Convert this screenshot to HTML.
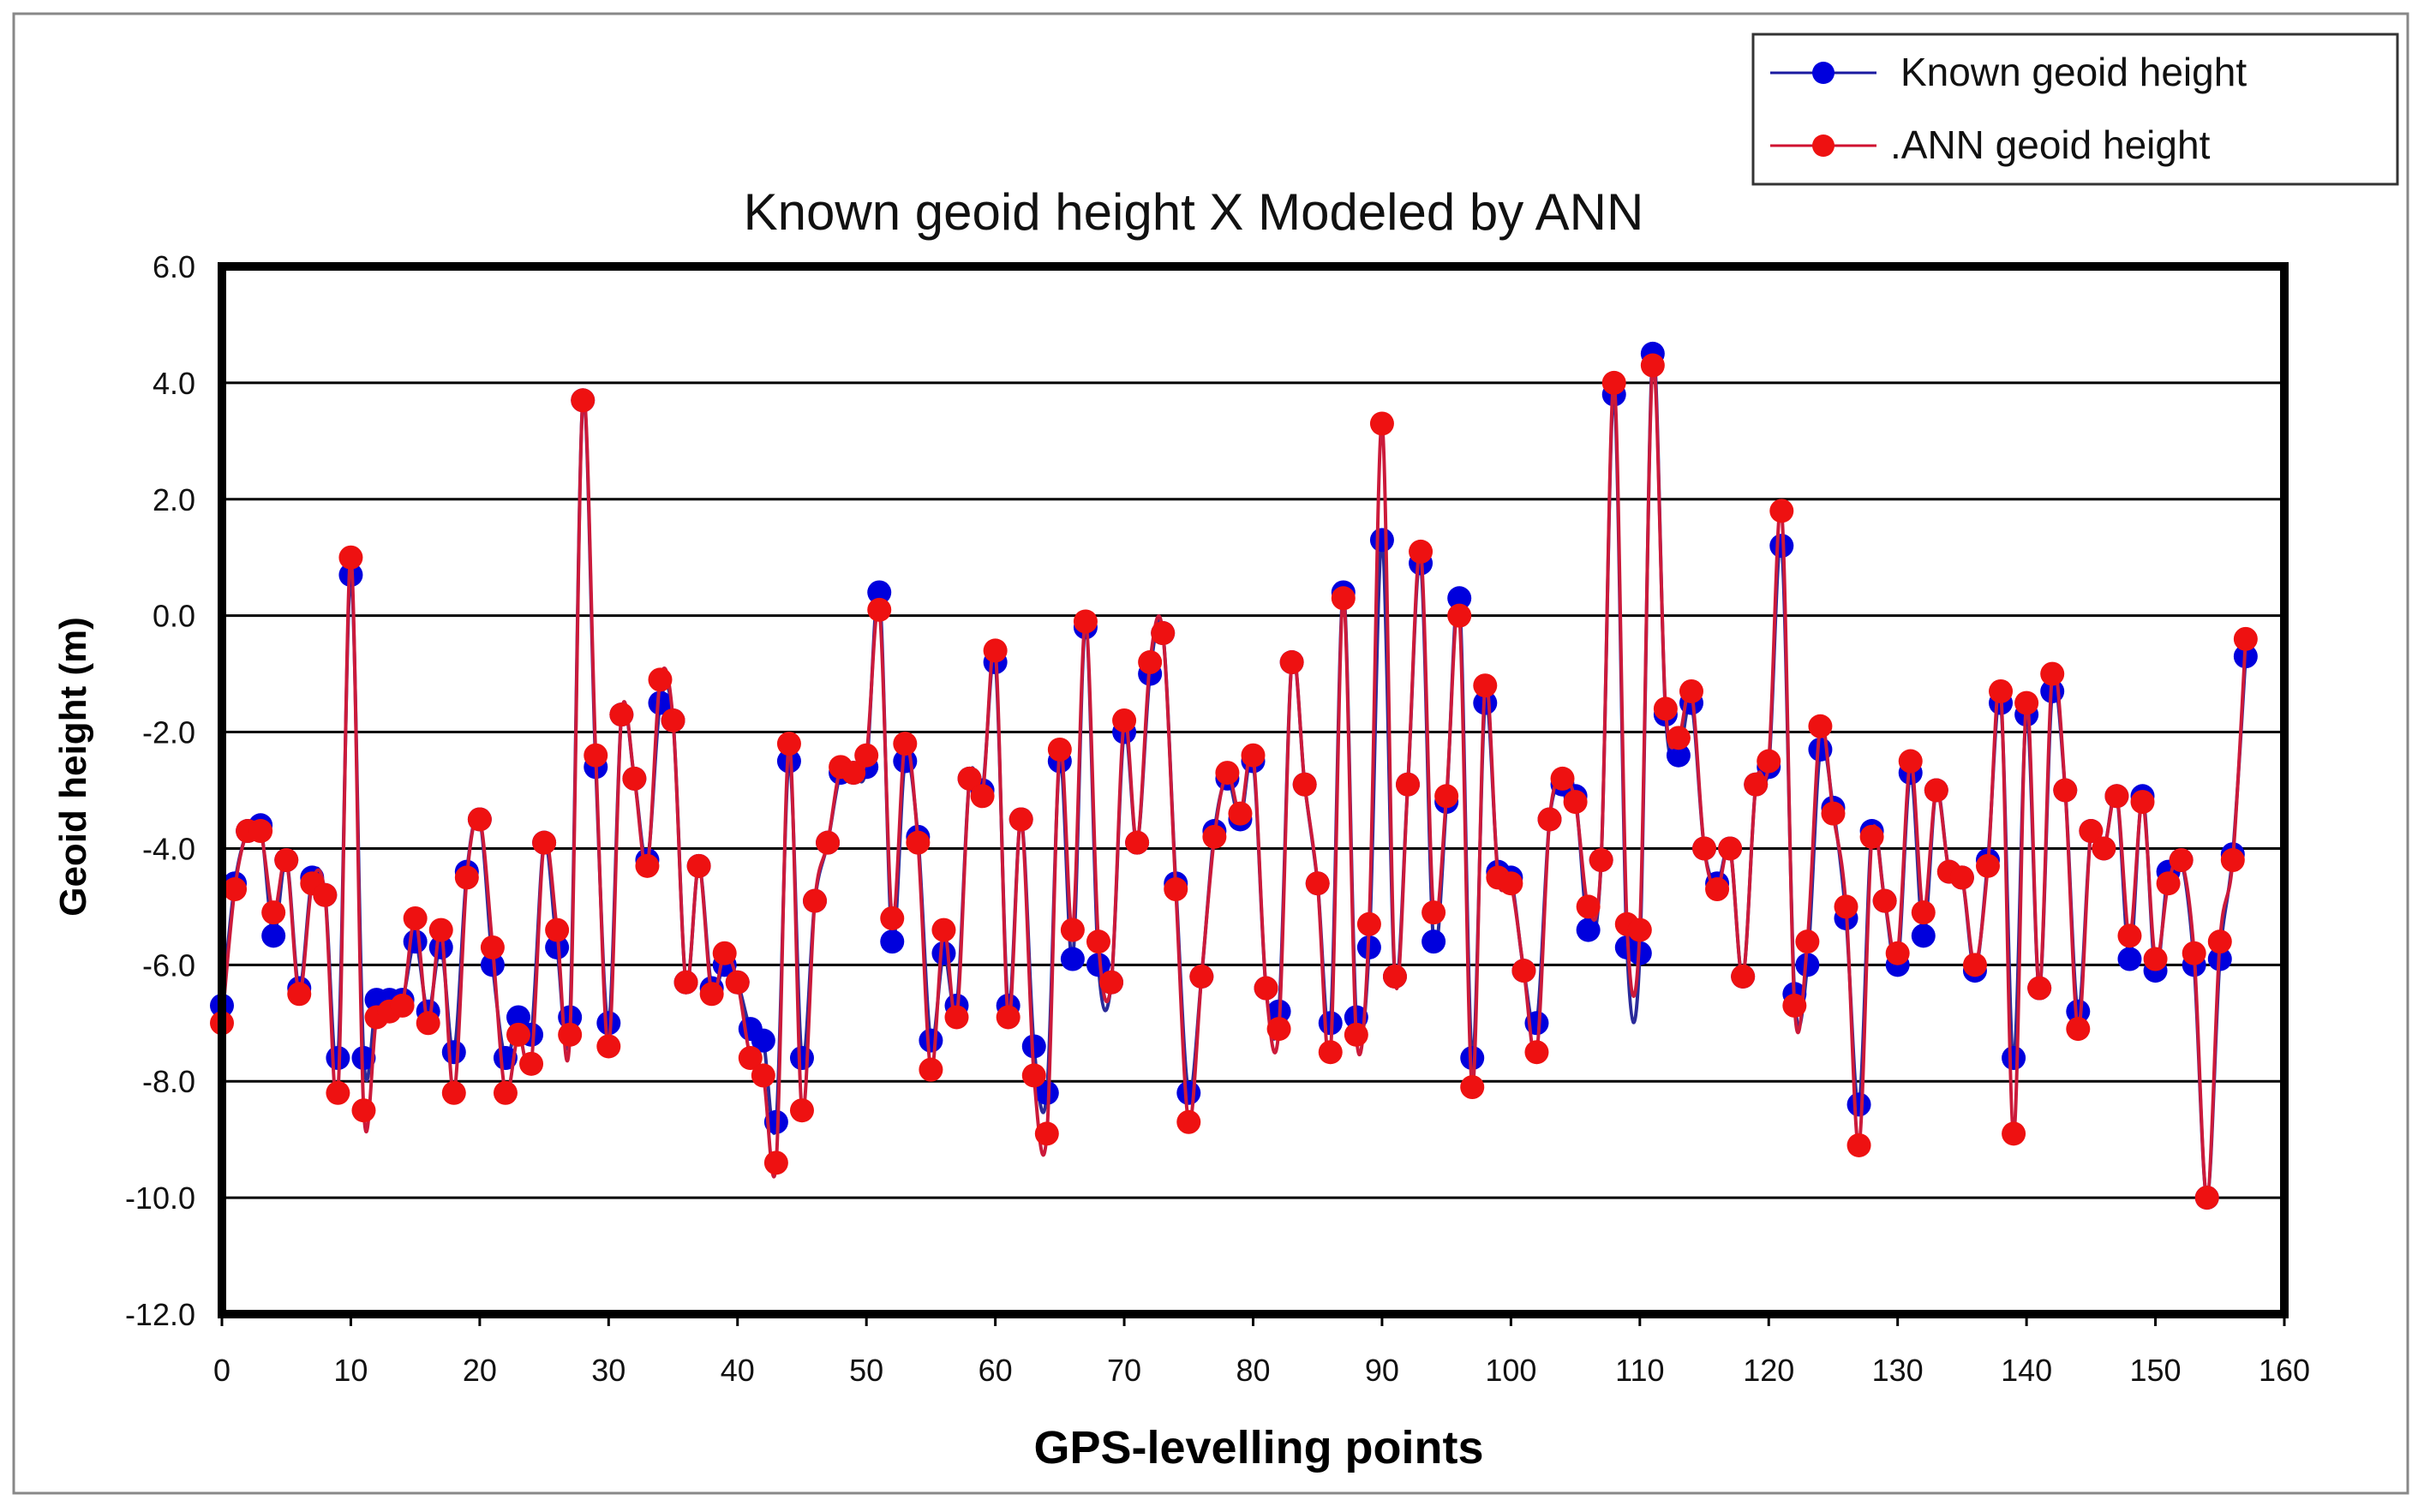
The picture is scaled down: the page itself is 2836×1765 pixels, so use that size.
<!DOCTYPE html>
<html><head><meta charset="utf-8"><style>
html,body{margin:0;padding:0;background:#fff;}
svg{display:block;font-family:"Liberation Sans",Arial,sans-serif;}
</style></head><body>
<svg id="chart" width="2836" height="1765" viewBox="0 0 2836 1765">
<rect x="16" y="16" width="2794" height="1727" fill="#fff" stroke="#888" stroke-width="3"/>
<g id="grid"></g>
<g id="series"></g>
<rect x="259" y="311" width="2407" height="1223" fill="none" stroke="#000" stroke-width="10"/>
<g id="yticks"></g><g id="xticks"></g>
<text x="1393" y="268" font-size="60" text-anchor="middle" fill="#111">Known geoid height X Modeled by ANN</text>
<text x="1469" y="1708" font-size="54" font-weight="bold" text-anchor="middle" fill="#000">GPS-levelling points</text>
<text transform="translate(100,895) rotate(-90)" font-size="44" font-weight="bold" text-anchor="middle" fill="#000">Geoid height (m)</text>
<g>
<rect x="2046" y="40" width="752" height="175" fill="#fff" stroke="#333" stroke-width="3"/>
<g>
<line x1="2066" y1="85" x2="2190" y2="85" stroke="#1a1aa0" stroke-width="3"/>
<circle cx="2128" cy="85" r="13" fill="#0000dd"/>
<text x="2218" y="100" font-size="46" fill="#111">Known geoid height</text></g>
<g>
<line x1="2066" y1="170" x2="2190" y2="170" stroke="#d01030" stroke-width="3"/>
<circle cx="2128" cy="170" r="13" fill="#ee1111"/>
<text x="2206" y="185" font-size="46" fill="#111">.ANN geoid height</text></g>
</g>
</svg>
<script>
const known=[-6.7,-4.6,-3.7,-3.6,-5.5,-4.2,-6.4,-4.5,-4.8,-7.6,0.7,-7.6,-6.6,-6.6,-6.6,-5.6,-6.8,-5.7,-7.5,-4.4,-3.5,-6.0,-7.6,-6.9,-7.2,-3.9,-5.7,-6.9,3.7,-2.6,-7.0,-1.7,-2.8,-4.2,-1.5,-1.8,-6.3,-4.3,-6.4,-6.0,-6.3,-7.1,-7.3,-8.7,-2.5,-7.6,-4.9,-3.9,-2.7,-2.7,-2.6,0.4,-5.6,-2.5,-3.8,-7.3,-5.8,-6.7,-2.8,-3.0,-0.8,-6.7,-3.5,-7.4,-8.2,-2.5,-5.9,-0.2,-6.0,-6.3,-2.0,-3.9,-1.0,-0.3,-4.6,-8.2,-6.2,-3.7,-2.8,-3.5,-2.5,-6.4,-6.8,-0.8,-2.9,-4.6,-7.0,0.4,-6.9,-5.7,1.3,-6.2,-2.9,0.9,-5.6,-3.2,0.3,-7.6,-1.5,-4.4,-4.5,-6.1,-7.0,-3.5,-2.9,-3.1,-5.4,-4.2,3.8,-5.7,-5.8,4.5,-1.7,-2.4,-1.5,-4.0,-4.6,-4.0,-6.2,-2.9,-2.6,1.2,-6.5,-6.0,-2.3,-3.3,-5.2,-8.4,-3.7,-4.9,-6.0,-2.7,-5.5,-3.0,-4.4,-4.5,-6.1,-4.2,-1.5,-7.6,-1.7,-6.4,-1.3,-3.0,-6.8,-3.7,-4.0,-3.1,-5.9,-3.1,-6.1,-4.4,-4.2,-6.0,-10.0,-5.9,-4.1,-0.7];
const ann=[-7.0,-4.7,-3.7,-3.7,-5.1,-4.2,-6.5,-4.6,-4.8,-8.2,1.0,-8.5,-6.9,-6.8,-6.7,-5.2,-7.0,-5.4,-8.2,-4.5,-3.5,-5.7,-8.2,-7.2,-7.7,-3.9,-5.4,-7.2,3.7,-2.4,-7.4,-1.7,-2.8,-4.3,-1.1,-1.8,-6.3,-4.3,-6.5,-5.8,-6.3,-7.6,-7.9,-9.4,-2.2,-8.5,-4.9,-3.9,-2.6,-2.7,-2.4,0.1,-5.2,-2.2,-3.9,-7.8,-5.4,-6.9,-2.8,-3.1,-0.6,-6.9,-3.5,-7.9,-8.9,-2.3,-5.4,-0.1,-5.6,-6.3,-1.8,-3.9,-0.8,-0.3,-4.7,-8.7,-6.2,-3.8,-2.7,-3.4,-2.4,-6.4,-7.1,-0.8,-2.9,-4.6,-7.5,0.3,-7.2,-5.3,3.3,-6.2,-2.9,1.1,-5.1,-3.1,0.0,-8.1,-1.2,-4.5,-4.6,-6.1,-7.5,-3.5,-2.8,-3.2,-5.0,-4.2,4.0,-5.3,-5.4,4.3,-1.6,-2.1,-1.3,-4.0,-4.7,-4.0,-6.2,-2.9,-2.5,1.8,-6.7,-5.6,-1.9,-3.4,-5.0,-9.1,-3.8,-4.9,-5.8,-2.5,-5.1,-3.0,-4.4,-4.5,-6.0,-4.3,-1.3,-8.9,-1.5,-6.4,-1.0,-3.0,-7.1,-3.7,-4.0,-3.1,-5.5,-3.2,-5.9,-4.6,-4.2,-5.8,-10.0,-5.6,-4.2,-0.4];
const yTicks=["6.0","4.0","2.0","0.0","-2.0","-4.0","-6.0","-8.0","-10.0","-12.0"];
const xTicks=[0,10,20,30,40,50,60,70,80,90,100,110,120,130,140,150,160];
const NS="http://www.w3.org/2000/svg";
const X0=259,X1=2666,Y0=311,Y1=1534;
function sx(v){return X0+(v-0)/(160-0)*(X1-X0);}
function sy(v){return Y1-(v+12)/18*(Y1-Y0);}
function mk(tag,attrs,parent){const e=document.createElementNS(NS,tag);for(const k in attrs)e.setAttribute(k,attrs[k]);parent.appendChild(e);return e;}
const grid=document.getElementById('grid'),yt=document.getElementById('yticks'),xt=document.getElementById('xticks'),ser=document.getElementById('series');
yTicks.forEach(t=>{const v=parseFloat(t);
const l=mk('line',{x1:X0,x2:X1,y1:sy(v),y2:sy(v),stroke:'#000','stroke-width':3},grid);


const tx=mk('text',{x:228,y:sy(v)+13,'font-size':36,'text-anchor':'end',fill:'#111'},yt);tx.textContent=t;

});
xTicks.forEach(v=>{
const tm=mk('line',{x1:sx(v),x2:sx(v),y1:Y1,y2:Y1+14,stroke:'#000','stroke-width':3},xt);


const tx=mk('text',{x:sx(v),y:1612,'font-size':36,'text-anchor':'middle',fill:'#111'},xt);tx.textContent=v;

});
function smooth(arr){const p=arr.map((v,i)=>[sx(i),sy(v)]);let d='M'+p[0][0]+','+p[0][1];
for(let i=0;i<p.length-1;i++){const a=p[Math.max(0,i-1)],b=p[i],c=p[i+1],e=p[Math.min(p.length-1,i+2)];
const c1=[b[0]+(c[0]-a[0])/6,b[1]+(c[1]-a[1])/6],c2=[c[0]-(e[0]-b[0])/6,c[1]-(e[1]-b[1])/6];
d+=' C'+c1[0]+','+c1[1]+' '+c2[0]+','+c2[1]+' '+c[0]+','+c[1];}return d;}
function drawSeries(arr,lineCol,dotCol,name){
const g=mk('g',{},ser);


const path=mk('path',{d:smooth(arr),fill:'none',stroke:lineCol,'stroke-width':4},g);


arr.forEach((v,i)=>{const c=mk('circle',{cx:sx(i),cy:sy(v),r:14,fill:dotCol},g);

});}
drawSeries(known,'#2a2a9a','#0000dd','known');
drawSeries(ann,'#cc1a3a','#ee1111','ann');
</script>
</body></html>
